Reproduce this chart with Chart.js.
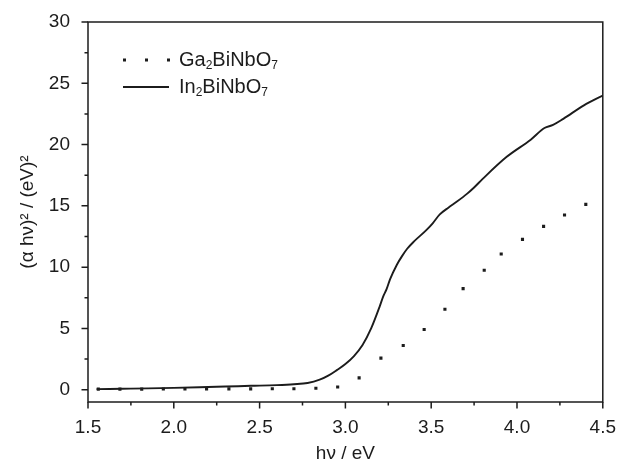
<!DOCTYPE html>
<html>
<head>
<meta charset="utf-8">
<script src="https://cdn.jsdelivr.net/npm/chart.js@4.4.1/dist/chart.umd.min.js"></script>
<style>
  html, body { margin: 0; padding: 0; background: #ffffff; }
  #wrap { width: 622px; height: 461px; }
</style>
</head>
<body>
<div id="wrap"><canvas id="c" width="622" height="461"></canvas></div>
<script>
// ---- Data ----
const seriesNames = ['Ga₂BiNbO₇', 'In₂BiNbO₇'];

// Ga2BiNbO7 (dotted: individual points)
const gaX = [1.560, 1.686, 1.813, 1.939, 2.065, 2.191, 2.321, 2.448, 2.574, 2.700, 2.828, 2.955,
             3.080, 3.207, 3.337, 3.459, 3.580, 3.686, 3.809, 3.908, 4.032, 4.155, 4.277, 4.401];
const gaY = [0.05, 0.05, 0.05, 0.06, 0.06, 0.06, 0.07, 0.07, 0.08, 0.08, 0.12, 0.22,
             0.97, 2.58, 3.61, 4.91, 6.57, 8.25, 9.75, 11.07, 12.27, 13.33, 14.25, 15.12];

// In2BiNbO7 (solid line)
const inX = [1.55, 1.70, 1.85, 2.00, 2.15, 2.30, 2.45, 2.60, 2.70, 2.78, 2.85, 2.90, 2.95, 3.00,
             3.05, 3.10, 3.15, 3.20, 3.22, 3.24, 3.26, 3.30, 3.33, 3.36, 3.40, 3.47, 3.51, 3.55,
             3.60, 3.65, 3.71, 3.75, 3.80, 3.94, 4.08, 4.16, 4.21, 4.27, 4.39, 4.50];
const inY = [0.05, 0.08, 0.11, 0.15, 0.20, 0.26, 0.32, 0.38, 0.45, 0.55, 0.82, 1.15, 1.60, 2.10,
             2.75, 3.65, 5.00, 6.80, 7.60, 8.20, 9.00, 10.20, 10.90, 11.50, 12.10, 13.00, 13.60, 14.30,
             14.85, 15.35, 16.00, 16.50, 17.20, 19.00, 20.40, 21.35, 21.60, 22.10, 23.20, 24.00];

// Axes
const xTicks = [1.5, 2.0, 2.5, 3.0, 3.5, 4.0, 4.5];
const xTickLabels = ['1.5', '2.0', '2.5', '3.0', '3.5', '4.0', '4.5'];
const yTicks = [0, 5, 10, 15, 20, 25, 30];
const yTickLabels = ['0', '5', '10', '15', '20', '25', '30'];
const xTitle = 'hν / eV';
const yTitle = '(α hν)² / (eV)²';

// ---- Styles ----
const INK = '#1c1c1c';
const FONT = "'Liberation Sans', Arial, Helvetica, sans-serif";

const toPts = (xs, ys) => xs.map((x, i) => ({ x: x, y: ys[i] }));

// minor ticks halfway between majors
const mids = arr => arr.slice(0, -1).map((v, i) => (v + arr[i + 1]) / 2);

const framePlugin = {
  id: 'frameTicksLegend',
  afterDraw(chart) {
    const ctx = chart.ctx;
    const a = chart.chartArea;
    const xs = chart.scales.x, ys = chart.scales.y;
    ctx.save();
    ctx.strokeStyle = INK;
    ctx.lineWidth = 1.5;
    ctx.lineCap = 'butt';
    // frame
    ctx.strokeRect(a.left, a.top, a.right - a.left, a.bottom - a.top);
    // y ticks (outward, left)
    ctx.beginPath();
    yTicks.forEach(v => { const p = ys.getPixelForValue(v); ctx.moveTo(a.left - 6.5, p); ctx.lineTo(a.left, p); });
    mids(yTicks).forEach(v => { const p = ys.getPixelForValue(v); ctx.moveTo(a.left - 3.5, p); ctx.lineTo(a.left, p); });
    // x ticks (outward, down)
    xTicks.forEach(v => { const p = xs.getPixelForValue(v); ctx.moveTo(p, a.bottom); ctx.lineTo(p, a.bottom + 6.5); });
    mids(xTicks).forEach(v => { const p = xs.getPixelForValue(v); ctx.moveTo(p, a.bottom); ctx.lineTo(p, a.bottom + 3.5); });
    ctx.stroke();

    // legend (inside plot, top-left)
    const lx = 123, ly1 = 60, ly2 = 87;
    ctx.fillStyle = INK;
    [0, 22, 44].forEach(dx => ctx.fillRect(lx + dx, ly1 - 1.5, 3, 3));
    ctx.beginPath();
    ctx.lineWidth = 1.8;
    ctx.moveTo(lx, ly2); ctx.lineTo(lx + 46, ly2);
    ctx.stroke();

    const drawSubText = (txt, x, y) => {
      ctx.textBaseline = 'middle';
      ctx.textAlign = 'left';
      for (const ch of txt) {
        const code = ch.charCodeAt(0);
        if (code >= 0x2080 && code <= 0x2089) {
          const d = String(code - 0x2080);
          ctx.font = '12px ' + FONT;
          ctx.fillText(d, x, y + 6);
          x += ctx.measureText(d).width;
        } else {
          ctx.font = '20px ' + FONT;
          ctx.fillText(ch, x, y);
          x += ctx.measureText(ch).width;
        }
      }
    };
    drawSubText(chart.data.datasets[0].label, 179, ly1);
    drawSubText(chart.data.datasets[1].label, 179, ly2);
    ctx.restore();
  }
};

new Chart(document.getElementById('c'), {
  type: 'scatter',
  data: {
    datasets: [
      {
        label: seriesNames[0],
        data: toPts(gaX, gaY),
        showLine: false,
        pointStyle: 'rect',
        pointRadius: 2.2,
        pointBackgroundColor: INK,
        pointBorderWidth: 0,
        borderColor: INK,
        backgroundColor: INK
      },
      {
        label: seriesNames[1],
        data: toPts(inX, inY),
        showLine: true,
        pointRadius: 0,
        borderColor: INK,
        borderWidth: 1.9,
        cubicInterpolationMode: 'monotone',
        fill: false
      }
    ]
  },
  options: {
    responsive: false,
    animation: false,
    devicePixelRatio: 1,
    layout: { padding: { top: 22, right: 19, left: 0, bottom: 0 } },
    plugins: {
      legend: { display: false },
      tooltip: { enabled: false }
    },
    scales: {
      x: {
        type: 'linear',
        min: 1.5,
        max: 4.5,
        grid: { display: false },
        border: { display: false },
        afterBuildTicks: s => { s.ticks = xTicks.map(v => ({ value: v })); },
        afterFit: s => { s.height = 59; },
        ticks: {
          padding: 6,
          color: INK,
          font: { family: FONT, size: 19 },
          maxRotation: 0,
          callback: (v) => { const i = xTicks.indexOf(v); return i >= 0 ? xTickLabels[i] : ''; }
        },
        title: {
          display: true,
          text: xTitle,
          color: INK,
          font: { family: FONT, size: 19 },
          padding: { top: 0, bottom: -4 }
        }
      },
      y: {
        type: 'linear',
        min: -1,
        max: 30,
        grid: { display: false },
        border: { display: false },
        afterBuildTicks: s => { s.ticks = yTicks.map(v => ({ value: v })); },
        afterFit: s => { s.width = 88; },
        ticks: {
          padding: 10,
          color: INK,
          font: { family: FONT, size: 19 },
          callback: (v) => { const i = yTicks.indexOf(v); return i >= 0 ? yTickLabels[i] : ''; }
        },
        title: {
          display: true,
          text: yTitle,
          color: INK,
          font: { family: FONT, size: 19 },
          padding: { top: 16, bottom: 0 }
        }
      }
    }
  },
  plugins: [framePlugin]
});
</script>
</body>
</html>
